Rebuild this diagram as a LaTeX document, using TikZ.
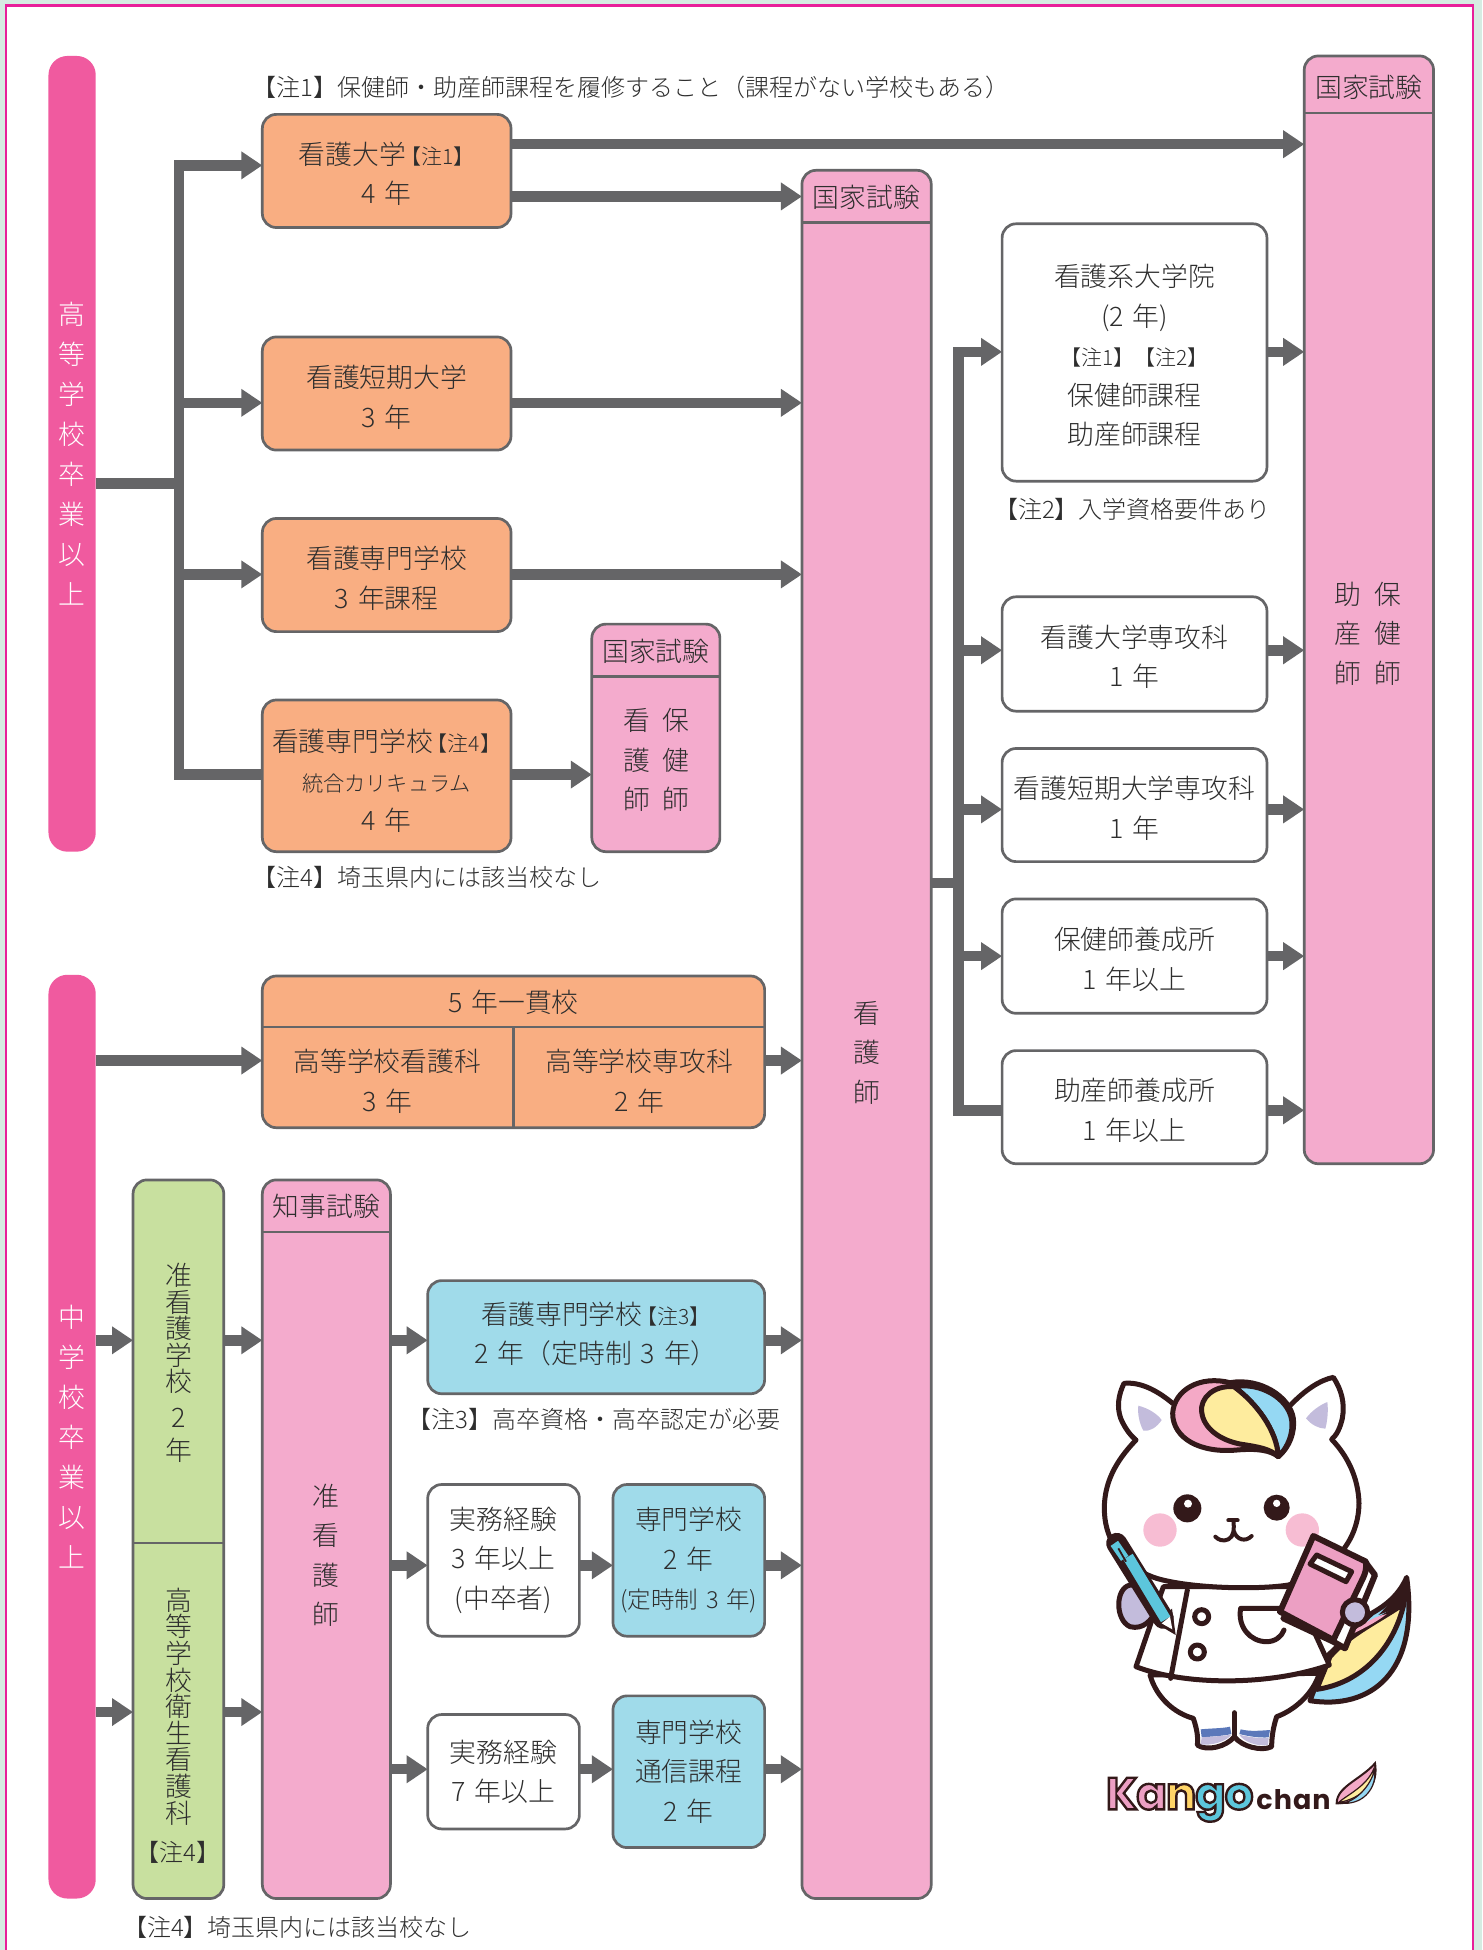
\documentclass[tikz,border=0pt]{standalone}
\usepackage{fontspec}
\usetikzlibrary{arrows.meta}
\newfontfamily\jp{Noto Sans CJK JP Light}[WordSpace=1.5]
\newfontfamily\logof{Poppins}
\definecolor{bg}{HTML}{D6ECE2}
\definecolor{frame}{HTML}{E8209A}
\definecolor{barp}{HTML}{F05A9F}
\definecolor{orng}{HTML}{F9AE82}
\definecolor{pnk}{HTML}{F4ABCD}
\definecolor{grn}{HTML}{C8E09F}
\definecolor{blu}{HTML}{A0DBEA}
\definecolor{gy}{HTML}{656567}
\definecolor{tx}{HTML}{2E2E2E}
\definecolor{mbrown}{HTML}{33191A}
\definecolor{mpink}{HTML}{F4A9C6}
\definecolor{myellow}{HTML}{FEEC9E}
\definecolor{mblue}{HTML}{95D8F3}
\definecolor{mlav}{HTML}{C3BCDC}
\definecolor{mcheek}{HTML}{F7BDD3}
\definecolor{mbook}{HTML}{EC9FC3}
\definecolor{mpen}{HTML}{5CC6DC}
\definecolor{msock}{HTML}{5B78BA}
\definecolor{lgy}{HTML}{FFD467}
\tikzset{
  base/.style={draw=gy,line width=2.7pt,rounded corners=14pt,inner sep=0pt,outer sep=0pt},
  obox/.style={base,fill=orng},
  pbox/.style={base,fill=pnk},
  gbox/.style={base,fill=grn},
  bbox/.style={base,fill=blu},
  wbox/.style={base,fill=white},
  sidebar/.style={fill=barp,rounded corners=19pt,inner sep=0pt,outer sep=0pt,align=center,text=white,font=\jp\fontsize{26.8}{40}\selectfont},
  label/.style={inner sep=0pt,outer sep=0pt,align=center,text=tx,font=\jp\fontsize{26.8}{39.5}\selectfont},
  note/.style={inner sep=0pt,outer sep=0pt,anchor=west,text=tx,font=\jp\fontsize{24}{28}\selectfont},
  arr/.style={draw=gy,line width=10.5pt,-{Triangle[length=21pt,width=26.5pt]}},
  lin/.style={draw=gy,line width=10.5pt},
  hline/.style={draw=gy,line width=2.7pt},
  mk/.style={draw=mbrown,line width=5pt,line join=round,line cap=round},
}
\newcommand{\bx}[6]{\node[#2,minimum width={(#5-#3)*1.2433pt},minimum height={(#6-#4)*1.2433pt}] (#1) at ({(#3+#5)/2},{(#4+#6)/2}) {};}
\newcommand{\tbx}[8][-3pt]{\bx{#2}{#3}{#4}{#5}{#6}{#7}\node[label] (#2t) at ([yshift=#1]#2.center) {#8};}
\newcommand{\smf}{\fontsize{21}{39.5}\selectfont}
\newcommand{\mdf}{\fontsize{21.2}{39.5}\selectfont}
\newcommand{\lt}[2]{{\color{#1}\special{pdf:code 2 Tr 2.4 w 0.2 0.1 0.1 RG}#2}}
\begin{document}
\begin{tikzpicture}[x=1.2433pt,y=-1.2433pt]
\useasboundingbox (0,0) rectangle (1192,1568.4);
\fill[bg] (0,0) rectangle (1192,1568.4);
\fill[white] (5,4.5) rectangle (1185,1568.4);
\draw[frame,line width=2.2pt] (5,1568.4) -- (5,4.5) -- (1185,4.5) -- (1185,1568.4);

% side bars
\node[sidebar,minimum width={38*1.2433pt},minimum height={640*1.2433pt}] (barA) at (58,365) {高\\等\\学\\校\\卒\\業\\以\\上};
\node[sidebar,minimum width={38*1.2433pt},minimum height={743*1.2433pt}] (barB) at (58,1155.5) {中\\学\\校\\卒\\業\\以\\上};

% notes
\node[note] (n1) at (203,70.5) {【注1】保健師・助産師課程を履修すること（課程がない学校もある）};
\node[note] (n4a) at (203,706) {【注4】埼玉県内には該当校なし};
\node[note] (n2) at (799.5,410) {【注2】入学資格要件あり};
\node[note] (n3) at (328,1142) {【注3】高卒資格・高卒認定が必要};
\node[note] (n4b) at (99,1550) {【注4】埼玉県内には該当校なし};

% orange
\tbx{kd}{obox}{211}{92}{411}{183}{看護大学\kern-6pt{\smf【注1】}\\4 年}
\tbx[-4pt]{kt}{obox}{211}{271}{411}{362}{看護短期大学\\3 年}
\tbx{ks}{obox}{211}{417}{411}{508}{看護専門学校\\3 年課程}
\tbx[-5pt]{kg}{obox}{211}{563}{411}{685}{看護専門学校\kern-6pt{\smf【注4】}\\{\mdf 統合カリキュラム}\\4 年}

% five-year school
\bx{five}{obox}{211}{785}{615}{907}
\draw[hline] (five.west |- 0,826) -- (five.east |- 0,826);
\coordinate (fdiv) at (413,826);
\draw[hline] (fdiv) -- (fdiv |- five.south);
\node[label] (f0) at (413,806) {5 年一貫校};
\node[label] (f1) at (311.5,869.5) {高等学校看護科\\3 年};
\node[label] (f2) at (514,869.5) {高等学校専攻科\\2 年};

% small exam box
\bx{sx}{pbox}{476}{502}{579}{685}
\draw[hline] (sx.west |- 0,544) -- (sx.east |- 0,544);
\node[label] (sxh) at (527.5,523.5) {国家試験};
\node[label] (sx1) at (512,611.5) {看\\護\\師};
\node[label] (sx2) at (544,611.5) {保\\健\\師};

% main nurse exam box
\bx{kx}{pbox}{645}{137}{749}{1527}
\draw[hline] (kx.west |- 0,179) -- (kx.east |- 0,179);
\node[label] (kxh) at (697,158.5) {国家試験};
\node[label] (kx1) at (697,846.5) {看\\護\\師};

% right exam box
\bx{rx}{pbox}{1049}{45}{1153}{936}
\draw[hline] (rx.west |- 0,91) -- (rx.east |- 0,91);
\node[label] (rxh) at (1101,70.5) {国家試験};
\node[label] (rx1) at (1084,509.5) {助\\産\\師};
\node[label] (rx2) at (1116,509.5) {保\\健\\師};

% white post-graduate boxes
\tbx{w1}{wbox}{806}{180}{1019}{387}{看護系大学院\\(2 年)\\{\smf【注1】【注2】}\\保健師課程\\助産師課程}
\tbx{w2}{wbox}{806}{480}{1019}{572}{看護大学専攻科\\1 年}
\tbx{w3}{wbox}{806}{602}{1019}{693}{看護短期大学専攻科\\1 年}
\tbx{w4}{wbox}{806}{723}{1019}{815}{保健師養成所\\1 年以上}
\tbx{w5}{wbox}{806}{845}{1019}{936}{助産師養成所\\1 年以上}

% green
\bx{g}{gbox}{107}{949}{180}{1527}
\draw[hline] (g.west |- 0,1241) -- (g.east |- 0,1241);
\node[label,font=\jp\fontsize{26.8}{26.6}\selectfont] (g1) at (143.5,1096) {准\\看\\護\\学\\校\\[9pt]2\\[6pt]年};
\node[label,font=\jp\fontsize{26.8}{26.6}\selectfont] (g2) at (143.5,1372.5) {高\\等\\学\\校\\衛\\生\\看\\護\\科};
\node[label,font=\jp\fontsize{24}{28}\selectfont] (g3) at (143.5,1489.5) {【注4】};

% governor exam box
\bx{cx}{pbox}{211}{949}{314}{1527}
\draw[hline] (cx.west |- 0,991) -- (cx.east |- 0,991);
\node[label] (cxh) at (262.5,970.5) {知事試験};
\node[label] (cx1) at (262,1251) {准\\看\\護\\師};

% lower schools
\tbx[3pt]{b1}{bbox}{344}{1030}{615}{1121}{看護専門学校\kern-6pt{\smf【注3】}\\2 年（定時制 3 年）}
\tbx[0pt]{j1}{wbox}{344}{1194}{466}{1316}{実務経験\\3 年以上\\(中卒者)}
\tbx[0pt]{b2}{bbox}{493}{1194}{615}{1316}{専門学校\\2 年\\{\fontsize{23.5}{39.5}\selectfont (定時制 3 年)}}
\tbx[0pt]{j2}{wbox}{344}{1379}{466}{1471}{実務経験\\7 年以上}
\tbx[0pt]{b3}{bbox}{493}{1364}{615}{1486}{専門学校\\通信課程\\2 年}

% trunks
\coordinate (tA) at (144,389);
\coordinate (tB) at (771,710);
\draw[lin] (barA.east |- tA) -- (tA);
\draw[arr] (tA |- 0,623) -- (tA |- 0,133) -- (kd.west |- 0,133);
\draw[lin] (tA |- 0,623) -- (kg.west |- 0,623);
\draw[lin,line cap=rect] (tA |- 0,619) -- (tA |- 0,623);
\draw[arr] (tA |- 0,324) -- (kt.west |- 0,324);
\draw[arr] (tA |- 0,462) -- (ks.west |- 0,462);
\draw[arr] (kd.east |- 0,116) -- (rx.west |- 0,116);
\draw[arr] (kd.east |- 0,158) -- (kx.west |- 0,158);
\draw[arr] (kt.east |- 0,324) -- (kx.west |- 0,324);
\draw[arr] (ks.east |- 0,462) -- (kx.west |- 0,462);
\draw[arr] (kg.east |- 0,623) -- (sx.west |- 0,623);
\draw[arr] (barB.east |- 0,853) -- (five.west |- 0,853);
\draw[arr] (five.east |- 0,853) -- (kx.west |- 0,853);

\draw[arr] (barB.east |- 0,1078) -- (g.west |- 0,1078);
\draw[arr] (barB.east |- 0,1377) -- (g.west |- 0,1377);
\draw[arr] (g.east |- 0,1078) -- (cx.west |- 0,1078);
\draw[arr] (g.east |- 0,1377) -- (cx.west |- 0,1377);
\draw[arr] (cx.east |- 0,1078) -- (b1.west |- 0,1078);
\draw[arr] (cx.east |- 0,1259) -- (j1.west |- 0,1259);
\draw[arr] (cx.east |- 0,1423) -- (j2.west |- 0,1423);
\draw[arr] (j1.east |- 0,1259) -- (b2.west |- 0,1259);
\draw[arr] (j2.east |- 0,1423) -- (b3.west |- 0,1423);
\draw[arr] (b1.east |- 0,1078) -- (kx.west |- 0,1078);
\draw[arr] (b2.east |- 0,1259) -- (kx.west |- 0,1259);
\draw[arr] (b3.east |- 0,1423) -- (kx.west |- 0,1423);

\draw[lin] (kx.east |- tB) -- (tB);
\draw[arr] (tB |- 0,893) -- (tB |- 0,283) -- (w1.west |- 0,283);
\draw[lin] (tB |- 0,893) -- (w5.west |- 0,893);
\draw[lin,line cap=rect] (tB |- 0,889) -- (tB |- 0,893);
\draw[arr] (tB |- 0,523) -- (w2.west |- 0,523);
\draw[arr] (tB |- 0,651) -- (w3.west |- 0,651);
\draw[arr] (tB |- 0,769) -- (w4.west |- 0,769);
\draw[arr] (w1.east |- 0,283) -- (rx.west |- 0,283);
\draw[arr] (w2.east |- 0,523) -- (rx.west |- 0,523);
\draw[arr] (w3.east |- 0,651) -- (rx.west |- 0,651);
\draw[arr] (w4.east |- 0,769) -- (rx.west |- 0,769);
\draw[arr] (w5.east |- 0,893) -- (rx.west |- 0,893);

% mascot, coordinates in 3x pixels of the crop at (1050,1340)
\begin{scope}[xshift=1050pt,yshift=-1340pt,x=.33333pt,y=-.33333pt]
% tail
\path[mk,fill=mblue] (780,1082) .. controls (960,1110) and (1110,1000) .. (1070,712) .. controls (1045,770) and (1000,800) .. (965,820) -- (830,950) -- cycle;
\path[mk,fill=myellow] (800,1048) .. controls (930,1030) and (1030,930) .. (1062,790) .. controls (1010,830) and (900,880) .. (840,950) -- cycle;
\fill[mpink] (895,888) .. controls (930,855) and (970,830) .. (1010,822) .. controls (975,850) and (930,870) .. (895,888) -- cycle;
\fill[mbrown] (1070,705) .. controls (1085,750) and (1075,780) .. (1062,800) .. controls (1040,805) and (1010,815) .. (985,825) .. controls (1020,790) and (1055,750) .. (1070,705) -- cycle;
% lower body
\path[mk,fill=white] (300,1005) .. controls (320,1075) and (375,1120) .. (430,1135) .. controls (440,1165) and (445,1190) .. (442,1215) .. controls (470,1235) and (530,1220) .. (553,1190) .. controls (575,1220) and (635,1235) .. (665,1220) .. controls (665,1190) and (670,1160) .. (680,1130) .. controls (735,1110) and (790,1060) .. (808,1000) -- cycle;
\fill[msock] (452,1168) .. controls (480,1165) and (520,1165) .. (540,1160) -- (544,1182) .. controls (520,1188) and (480,1190) .. (455,1192) -- cycle;
\fill[mlav] (455,1192) .. controls (480,1190) and (520,1188) .. (544,1184) .. controls (530,1205) and (480,1218) .. (452,1213) -- cycle;
\fill[msock] (572,1168) .. controls (600,1175) and (630,1172) .. (660,1170) -- (656,1192) .. controls (630,1194) and (600,1190) .. (568,1182) -- cycle;
\fill[mlav] (568,1184) .. controls (600,1192) and (630,1195) .. (656,1194) -- (654,1215) .. controls (620,1220) and (580,1205) .. (568,1184) -- cycle;
\draw[mk] (553,1118) -- (553,1190);
% coat
\path[mk,fill=white] (340,740) -- (258,980) .. controls (400,1035) and (650,1040) .. (838,975) -- (790,870) -- (720,740) -- cycle;
\draw[mk] (412,750) -- (362,1015);
% buttons and pocket
\path[mk,fill=white] (455,830) circle (21);
\path[mk,fill=white] (442,936) circle (21);
\draw[mk] (690,805) -- (572,805) .. controls (562,860) and (600,905) .. (650,905) .. controls (675,905) and (695,890) .. (702,870);
% ears
\fill[white] (368,190) .. controls (320,150) and (270,125) .. (222,130) .. controls (205,165) and (200,200) .. (212,235) .. controls (225,265) and (240,285) .. (258,300) -- cycle;
\draw[mk] (368,190) .. controls (320,150) and (270,125) .. (222,130) .. controls (205,165) and (200,200) .. (212,235) .. controls (225,265) and (240,285) .. (258,300);
\fill[white] (722,195) .. controls (765,150) and (810,120) .. (850,112) .. controls (875,150) and (885,190) .. (877,235) .. controls (870,265) and (860,285) .. (845,298) -- cycle;
\draw[mk] (722,195) .. controls (765,150) and (810,120) .. (850,112) .. controls (875,150) and (885,190) .. (877,235) .. controls (870,265) and (860,285) .. (845,298);
% head
\fill[white] (258,300) .. controls (195,365) and (163,430) .. (163,505) .. controls (163,620) and (240,690) .. (320,715) .. controls (420,745) and (620,750) .. (715,735) .. controls (830,700) and (925,620) .. (927,490) .. controls (925,410) and (890,345) .. (845,298) .. controls (800,200) and (300,200) .. (258,300) -- cycle;
\draw[mk] (258,300) .. controls (195,365) and (163,430) .. (163,505) .. controls (163,620) and (240,690) .. (320,715) .. controls (420,745) and (620,750) .. (715,735) .. controls (830,700) and (925,620) .. (927,490) .. controls (925,410) and (890,345) .. (845,298);
% inner ears
\fill[mlav] (265,197) .. controls (295,205) and (320,220) .. (335,240) .. controls (320,262) and (300,275) .. (280,272) .. controls (268,250) and (262,220) .. (265,197) -- cycle;
\fill[mlav] (832,186) .. controls (835,210) and (833,240) .. (826,266) .. controls (805,265) and (785,255) .. (768,235) .. controls (785,212) and (810,195) .. (832,186) -- cycle;
% hair
\path[mk,fill=mpink] (540,128) .. controls (450,105) and (372,150) .. (368,220) .. controls (368,295) and (450,340) .. (560,330) .. controls (620,325) and (660,330) .. (685,350) .. controls (720,320) and (735,275) .. (730,235) .. controls (720,170) and (630,112) .. (540,128) -- cycle;
\path[mk,fill=mblue] (552,140) .. controls (630,125) and (715,175) .. (725,240) .. controls (730,280) and (715,320) .. (685,350) .. controls (680,270) and (620,190) .. (552,140) -- cycle;
\path[mk,fill=myellow] (552,140) .. controls (490,135) and (450,175) .. (455,215) .. controls (460,265) and (510,300) .. (570,312) .. controls (620,320) and (660,325) .. (685,350) .. controls (680,270) and (620,190) .. (552,140) -- cycle;
% face
\fill[mcheek] (330,570) circle (50);
\fill[mcheek] (757,570) circle (50);
\fill[mbrown] (412,505) circle (42);
\fill[white] (414,491) circle (12);
\fill[mbrown] (680,503) circle (39);
\fill[white] (680,490) circle (11);
\draw[mk,line width=4pt] (535,541) -- (563,541);
\draw[mk,line width=4pt] (550,541) .. controls (553,565) and (552,590) .. (535,598) .. controls (520,605) and (505,600) .. (496,590);
\draw[mk,line width=4pt] (552,575) .. controls (560,598) and (585,608) .. (605,588);
% left arm and pen
\path[mk,fill=mlav] (240,735) .. controls (195,745) and (195,840) .. (240,860) .. controls (280,870) and (305,840) .. (320,810) -- (280,735) -- cycle;
\draw[mbrown,line width=21pt,line cap=round] (200,610) -- (340,835);
\fill[mbrown] (318,850) -- (377,885) -- (366,806) -- cycle;
\draw[mpen,line width=11pt] (234,650) -- (347,838);
\draw[mpen,line width=9pt] (193,610) -- (224,655);
\draw[mbrown,line width=1.8pt] (205,625) -- (228,665);
\fill[white] (335,850) -- (360,830) -- (367,868) -- cycle;
% book
\path[mk,line width=6pt,fill=white] (945,665) -- (975,705) -- (885,925) -- (850,905) -- (700,835) -- cycle;
\path[mk,line width=6pt,fill=mbook] (790,588) -- (948,665) .. controls (950,690) and (945,700) .. (940,712) -- (850,900) -- (690,815) -- cycle;
\path[mk,fill=white] (800,645) -- (905,695) -- (888,725) -- (780,672) -- cycle;
\path[mk,fill=mlav] (915,817) circle (38);
% logo
\node[inner sep=0pt,outer sep=0pt,anchor=base west] (logo) at (168,1408) {\logof\bfseries\fontsize{45}{45}\selectfont\lt{mbook}{K}\kern-1pt\lt{mbook}{a}\kern-1pt\lt{lgy}{n}\kern-1pt\lt{mpen}{g}\kern-1pt\lt{mpen}{o}\special{pdf:code 0 Tr}\kern3pt\fontsize{27}{27}\selectfont\color{mbrown}c\kern1pt h\kern1pt a\kern1pt n};
% leaf
\path[draw=mbrown,line width=2pt,fill=mpink] (860,1390) .. controls (860,1340) and (930,1320) .. (975,1270) .. controls (985,1330) and (950,1390) .. (860,1390) -- cycle;
\path[draw=mbrown,line width=1.2pt,fill=myellow] (865,1388) .. controls (890,1365) and (950,1340) .. (972,1285) .. controls (970,1340) and (930,1375) .. (865,1388) -- cycle;
\path[draw=mbrown,line width=1.2pt,fill=mblue] (880,1390) .. controls (920,1380) and (960,1340) .. (974,1290) .. controls (980,1340) and (945,1392) .. (880,1390) -- cycle;
\end{scope}
\end{tikzpicture}
\end{document}
